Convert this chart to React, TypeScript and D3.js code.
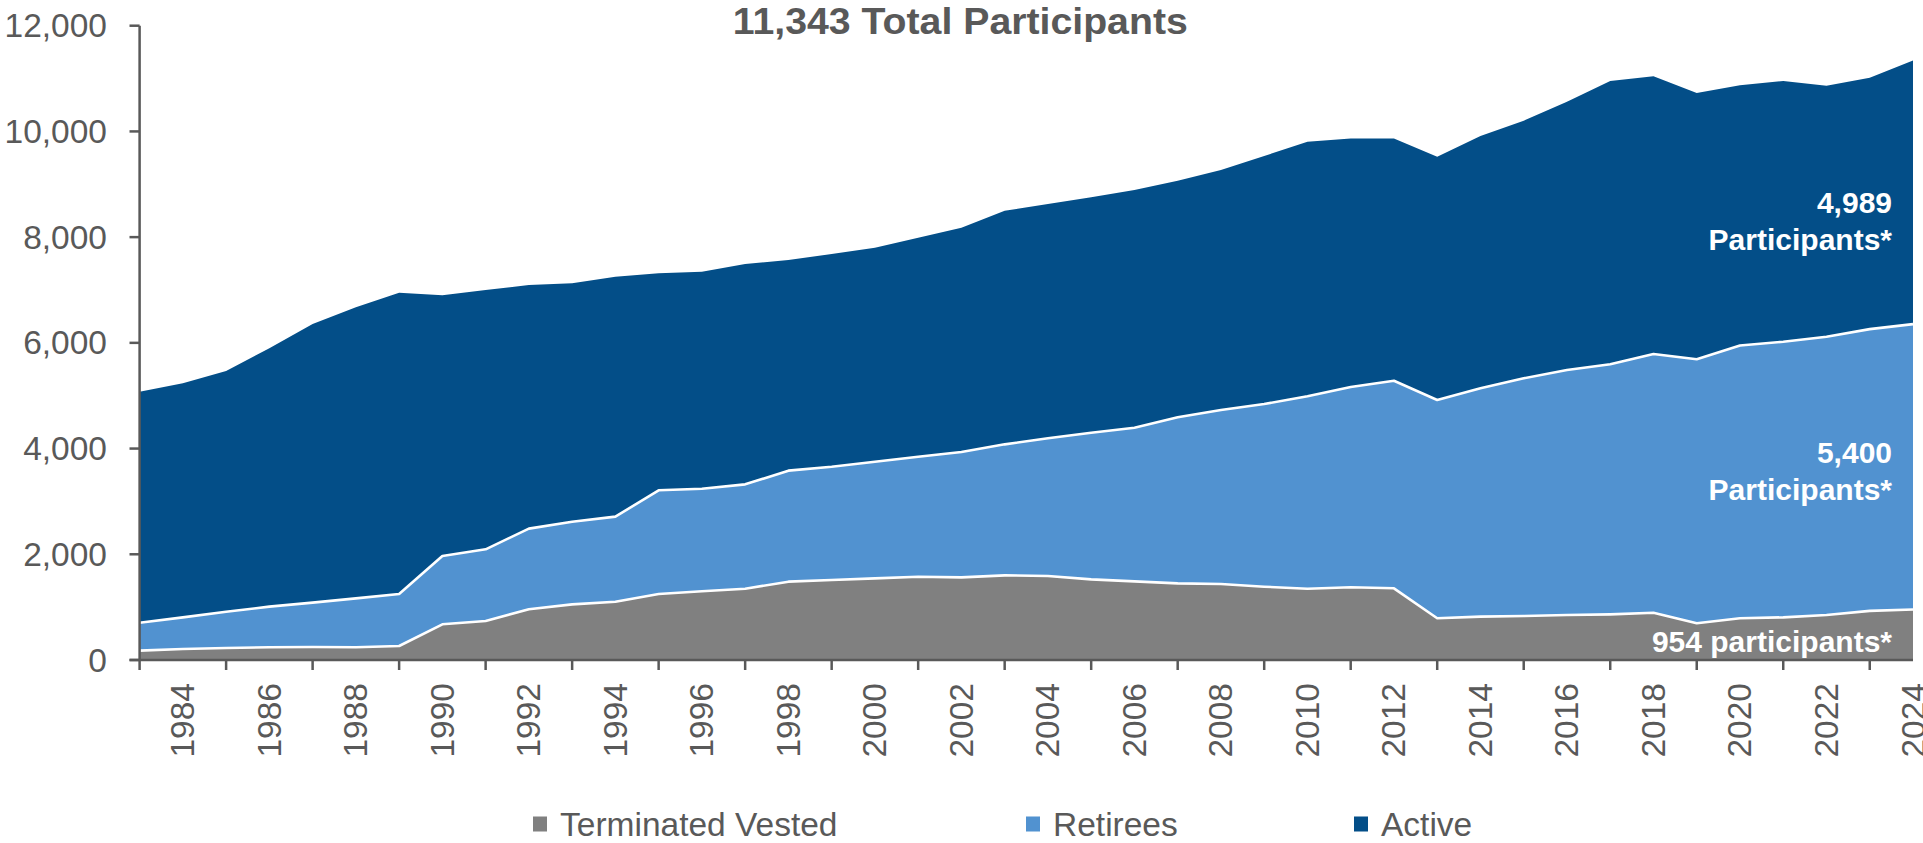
import React from 'react';
import * as d3 from 'd3';

const years = [
  1983, 1984, 1985, 1986, 1987, 1988, 1989, 1990, 1991, 1992, 1993, 1994, 1995, 1996,
  1997, 1998, 1999, 2000, 2001, 2002, 2003, 2004, 2005, 2006, 2007, 2008, 2009, 2010,
  2011, 2012, 2013, 2014, 2015, 2016, 2017, 2018, 2019, 2020, 2021, 2022, 2023, 2024,
];

const terminatedVested = [
  177, 208, 227, 240, 246, 240, 265, 675, 738, 959, 1053, 1103, 1249, 1300,
  1349, 1482, 1513, 1545, 1576, 1564, 1601, 1589, 1526, 1488, 1450, 1438, 1387, 1349,
  1375, 1356, 789, 820, 832, 851, 864, 895, 694, 789, 807, 851, 930, 954,
];

const retirees = [
  529, 599, 687, 769, 839, 926, 983, 1292, 1356, 1526, 1564, 1609, 1961, 1941,
  1974, 2100, 2144, 2207, 2270, 2371, 2479, 2605, 2774, 2907, 3141, 3292, 3456, 3641,
  3790, 3928, 4130, 4320, 4497, 4635, 4730, 4894, 4995, 5161, 5215, 5265, 5330, 5400,
];

const active = [
  4370, 4427, 4553, 4888, 5271, 5506, 5701, 4932, 4906, 4609, 4509, 4540, 4105, 4105,
  4169, 3985, 4023, 4048, 4144, 4243, 4420, 4433, 4453, 4496, 4477, 4540, 4692, 4816,
  4703, 4584, 4603, 4773, 4874, 5076, 5360, 5253, 5038, 4922, 4932, 4749, 4756, 4989,
];

const seriesNames = ['Terminated Vested', 'Retirees', 'Active'];
const seriesColors = ['#808080', '#5192D0', '#034E88'];

const yTicks = [0, 2000, 4000, 6000, 8000, 10000, 12000];
const xLabelYears = [
  1984, 1986, 1988, 1990, 1992, 1994, 1996, 1998, 2000, 2002, 2004, 2006, 2008, 2010,
  2012, 2014, 2016, 2018, 2020, 2022, 2024,
];
const xTickYears = [
  1983, 1985, 1987, 1989, 1991, 1993, 1995, 1997, 1999, 2001, 2003, 2005, 2007, 2009,
  2011, 2013, 2015, 2017, 2019, 2021, 2023,
];

const titleText = '11,343 Total Participants';
const annotations = [
  { lines: ['4,989', 'Participants*'], baselines: [213, 250] },
  { lines: ['5,400', 'Participants*'], baselines: [463, 500] },
  { lines: ['954 participants*'], baselines: [652] },
];

const W = 1923;
const H = 843;
const FONT = '"Liberation Sans", Arial, sans-serif';
const AXIS = '#595959';

export default function App() {
  const x = d3.scalePoint<number>().domain(years).range([139.6, 1913]);
  const y = d3.scaleLinear().domain([0, 12000]).range([660, 25.7]);

  const rows = years.map((yr, i) => ({
    year: yr,
    'Terminated Vested': terminatedVested[i],
    Retirees: retirees[i],
    Active: active[i],
  }));
  const stack = d3.stack<any>().keys(seriesNames);
  const layers = stack(rows);

  const area = d3
    .area<any>()
    .x((d) => x(d.data.year) as number)
    .y0((d) => y(d[0]))
    .y1((d) => y(d[1]));
  const topLine = d3
    .line<any>()
    .x((d) => x(d.data.year) as number)
    .y((d) => y(d[1]));

  const fmt = d3.format(',');

  const legendFont = 33.5;
  const markerW = 14;
  const legendStarts = [533, 1026, 1354];

  return (
    <svg
      width={W}
      height={H}
      style={{ position: 'absolute', left: 0, top: 0, background: '#fff' }}
      fontFamily={FONT}
    >
      {[...layers].reverse().map((layer) => {
        const idx = seriesNames.indexOf(layer.key);
        return <path key={layer.key} d={area(layer) || ''} fill={seriesColors[idx]} />;
      })}
      {layers.slice(0, 2).map((layer) => (
        <path
          key={'l' + layer.key}
          d={topLine(layer) || ''}
          fill="none"
          stroke="#fff"
          strokeWidth={2.6}
          strokeLinejoin="round"
        />
      ))}

      <line x1={139.6} x2={139.6} y1={y(12000)} y2={y(0)} stroke={AXIS} strokeWidth={2.5} />
      {yTicks.map((t) => (
        <g key={'yt' + t}>
          <line x1={129.5} x2={139.6} y1={y(t)} y2={y(t)} stroke={AXIS} strokeWidth={2.5} />
          <text
            x={107}
            y={y(t)}
            textAnchor="end"
            dominantBaseline="central"
            fontSize={33.5}
            fill={AXIS}
          >
            {fmt(t)}
          </text>
        </g>
      ))}

      <line x1={129.5} x2={1913} y1={y(0)} y2={y(0)} stroke={AXIS} strokeWidth={2.5} />
      {xTickYears.map((yr) => (
        <line
          key={'xt' + yr}
          x1={x(yr)}
          x2={x(yr)}
          y1={y(0)}
          y2={y(0) + 10}
          stroke={AXIS}
          strokeWidth={2.5}
        />
      ))}
      {xLabelYears.map((yr) => (
        <text
          key={'xl' + yr}
          transform={`translate(${x(yr)},683) rotate(-90)`}
          textAnchor="end"
          dominantBaseline="central"
          fontSize={33.5}
          fill={AXIS}
        >
          {yr}
        </text>
      ))}

      <text
        x={960.3}
        y={34}
        textAnchor="middle"
        fontSize={36.5}
        fontWeight="bold"
        fill={AXIS}
        textLength={455}
        lengthAdjust="spacingAndGlyphs"
      >
        {titleText}
      </text>

      {annotations.map((a, i) =>
        a.lines.map((ln, j) => (
          <text
            key={'a' + i + j}
            x={1892}
            y={a.baselines[j]}
            textAnchor="end"
            fontSize={30}
            fontWeight="bold"
            fill="#fff"
          >
            {ln}
          </text>
        ))
      )}

      {seriesNames.map((name, i) => (
        <g key={'lg' + name}>
          <rect x={legendStarts[i]} y={816.5} width={markerW} height={15} fill={seriesColors[i]} />
          <text
            x={legendStarts[i] + markerW + 13}
            y={824}
            dominantBaseline="central"
            fontSize={legendFont}
            fill={AXIS}
          >
            {name}
          </text>
        </g>
      ))}
    </svg>
  );
}
